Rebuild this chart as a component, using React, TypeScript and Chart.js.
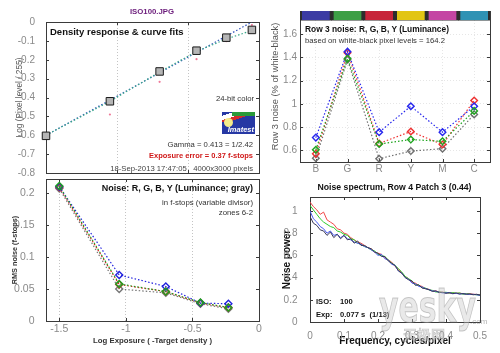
import React, { useEffect, useRef } from 'react';
import { Chart, registerables } from 'chart.js';
Chart.register(...registerables);

// ---------- Data ----------
// Density response (top-left)
const densityX = [-1.5, -1.05, -0.7, -0.44, -0.23, -0.05];
const densityY = [-0.603, -0.42, -0.262, -0.152, -0.083, -0.042];
const densityPinkY = [-0.6, -0.49, -0.317, -0.197, -0.102, -0.016];
const curveFitY = [-0.6, -0.42, -0.265, -0.156, -0.09, -0.045];
const gammaFitX = [-1.5, -0.05];
const gammaFitY = [-0.6, 0];
const densityXTicks = [-1.5, -1, -0.5, 0];
const densityYTicks = [0, -0.1, -0.2, -0.3, -0.4, -0.5, -0.6, -0.7, -0.8];

// RMS noise in f-stops (bottom-left)
const exposureX = [-1.5, -1.05, -0.7, -0.44, -0.23];
const rmsRed = [0.209, 0.057, 0.046, 0.028, 0.021];
const rmsGreen = [0.211, 0.058, 0.046, 0.029, 0.021];
const rmsBlue = [0.21, 0.072, 0.054, 0.028, 0.027];
const rmsGray = [0.207, 0.05, 0.044, 0.027, 0.019];
const exposureTicks = [-1.5, -1, -0.5, 0];
const rmsTicks = [0, 0.05, 0.1, 0.15, 0.2];

// Row 3 noise (top-right)
const patchLabels = ['B', 'G', 'R', 'Y', 'M', 'C'];
const patchColors = ['#3b3ba3', '#3d9f45', '#c7253a', '#e2c514', '#c445a3', '#2f92b4'];
const row3Red = [0.57, 1.44, 0.66, 0.763, 0.65, 1.03];
const row3Green = [0.606, 1.39, 0.655, 0.693, 0.678, 0.94];
const row3Blue = [0.71, 1.45, 0.757, 0.98, 0.757, 0.98];
const row3Gray = [0.533, 1.38, 0.528, 0.594, 0.615, 0.91];
const colorStripRange = [1.722, 1.8];
const row3Ticks = [0.6, 0.8, 1, 1.2, 1.4, 1.6];

// Noise spectrum (bottom-right)
const freq = [
  0, 0.01, 0.02, 0.03, 0.04, 0.05, 0.06, 0.07, 0.08, 0.09,
  0.1, 0.11, 0.12, 0.13, 0.14, 0.15, 0.16, 0.17, 0.18, 0.19,
  0.2, 0.21, 0.22, 0.23, 0.24, 0.25, 0.26, 0.27, 0.28, 0.29,
  0.3, 0.31, 0.32, 0.33, 0.34, 0.35, 0.36, 0.37, 0.38, 0.39,
  0.4, 0.41, 0.42, 0.43, 0.44, 0.45, 0.46, 0.47, 0.48, 0.49, 0.5,
];
const specRed = [
  1.08, 1.04, 1.01, 0.97, 0.99, 0.92, 0.9, 0.88, 0.84, 0.83,
  0.8, 0.79, 0.76, 0.74, 0.72, 0.71, 0.69, 0.67, 0.66, 0.63,
  0.62, 0.61, 0.58, 0.56, 0.54, 0.5, 0.48, 0.44, 0.41, 0.39,
  0.36, 0.35, 0.33, 0.32, 0.3, 0.295, 0.28, 0.28, 0.27, 0.268,
  0.265, 0.26, 0.262, 0.258, 0.26, 0.255, 0.252, 0.255, 0.25, 0.248, 0.245,
];
const specGreen = [
  1.05, 1.01, 0.97, 0.93, 0.9, 0.88, 0.86, 0.85, 0.82, 0.81,
  0.79, 0.78, 0.75, 0.74, 0.71, 0.7, 0.68, 0.67, 0.65, 0.64,
  0.61, 0.6, 0.59, 0.56, 0.53, 0.51, 0.48, 0.45, 0.41, 0.39,
  0.37, 0.34, 0.33, 0.31, 0.305, 0.29, 0.285, 0.27, 0.272, 0.265,
  0.268, 0.26, 0.265, 0.258, 0.262, 0.25, 0.255, 0.25, 0.248, 0.245, 0.243,
];
const specBlue = [
  1.0, 0.93, 0.9, 0.86, 0.84, 0.8, 0.82, 0.78, 0.79, 0.76,
  0.78, 0.75, 0.74, 0.72, 0.71, 0.7, 0.68, 0.67, 0.65, 0.63,
  0.6, 0.61, 0.57, 0.56, 0.52, 0.51, 0.46, 0.44, 0.4, 0.385,
  0.35, 0.345, 0.32, 0.315, 0.3, 0.292, 0.28, 0.277, 0.268, 0.262,
  0.262, 0.265, 0.255, 0.258, 0.252, 0.256, 0.25, 0.248, 0.25, 0.245, 0.24,
];
const specDark = [
  0.95, 0.89, 0.87, 0.83, 0.82, 0.78, 0.81, 0.76, 0.79, 0.75,
  0.78, 0.74, 0.75, 0.71, 0.73, 0.69, 0.69, 0.67, 0.66, 0.63,
  0.62, 0.59, 0.59, 0.55, 0.53, 0.51, 0.46, 0.44, 0.4, 0.38,
  0.37, 0.33, 0.335, 0.305, 0.3, 0.29, 0.275, 0.28, 0.265, 0.268,
  0.258, 0.265, 0.255, 0.262, 0.252, 0.256, 0.25, 0.253, 0.245, 0.25, 0.242,
];
const freqTicks = [0, 0.1, 0.2, 0.3, 0.4, 0.5];
const powerTicks = [0, 0.2, 0.4, 0.6, 0.8, 1];

// ---------- Styling helpers ----------
const FONT = "'Liberation Sans', Arial, Helvetica, sans-serif";
const TICK_COLOR = '#8a8a8a';
Chart.defaults.font.family = FONT;

const fmt = (v: any) => {
  const n = Math.round(Number(v) * 1000) / 1000;
  return Object.is(n, -0) ? '0' : String(n);
};
const setTicks = (vals: number[]) => (s: any) => {
  s.ticks = vals.map((value) => ({ value }));
};
const xy = (xs: number[], ys: number[]) => xs.map((x, i) => ({ x, y: ys[i] }));

const framePlugin = {
  id: 'frame',
  beforeDatasetsDraw(chart: any, _a: any, opts: any) {
    const { ctx, chartArea } = chart;
    const { left, top, right, bottom } = chartArea;
    const xs = chart.scales.x;
    const ys = chart.scales.y;
    const L = 3;
    ctx.save();
    ctx.strokeStyle = opts.color || '#3a3a3a';
    ctx.lineWidth = 1;
    ctx.setLineDash([]);
    ctx.beginPath();
    xs.ticks.forEach((_t: any, i: number) => {
      const p = Math.round(xs.getPixelForTick(i)) + 0.5;
      ctx.moveTo(p, bottom);
      ctx.lineTo(p, bottom - L);
      ctx.moveTo(p, top);
      ctx.lineTo(p, top + L);
    });
    ys.ticks.forEach((_t: any, i: number) => {
      const p = Math.round(ys.getPixelForTick(i)) + 0.5;
      ctx.moveTo(left, p);
      ctx.lineTo(left + L, p);
      ctx.moveTo(right, p);
      ctx.lineTo(right - L, p);
    });
    ctx.stroke();
    ctx.strokeRect(Math.round(left) + 0.5, Math.round(top) + 0.5, Math.round(right - left), Math.round(bottom - top));
    ctx.restore();
  },
};

const baseOptions = (pad: { top: number; right: number }) => ({
  animation: false,
  responsive: false,
  maintainAspectRatio: false,
  events: [],
  layout: { padding: { top: pad.top, right: pad.right, left: 0, bottom: 0 } },
  plugins: { legend: { display: false }, tooltip: { enabled: false }, frame: {} },
});

const marker = (color: string, data: any, r = 3.3) => ({
  data,
  borderColor: color,
  borderWidth: 1.2,
  borderDash: [1.5, 2],
  pointStyle: 'rectRot',
  pointRadius: r,
  pointBorderWidth: 1.4,
  pointBorderColor: color,
  pointBackgroundColor: 'rgba(255,255,255,0)',
  tension: 0,
});

// ---------- Chart configs ----------
const densityConfig = () => ({
  type: 'line',
  data: {
    datasets: [
      {
        data: xy(densityX, densityY),
        showLine: false,
        pointStyle: 'rect',
        pointRadius: 5.3,
        pointBackgroundColor: '#b5b5b5',
        pointBorderColor: '#1a1a1a',
        pointBorderWidth: 1,
        clip: false,
      },
      {
        data: xy(densityX, densityPinkY),
        showLine: false,
        pointStyle: 'circle',
        pointRadius: 1.1,
        pointBorderWidth: 0,
        pointBackgroundColor: '#f07898',
      },
      {
        data: xy(densityX, curveFitY),
        borderColor: '#3aa88a',
        borderWidth: 1.2,
        borderDash: [1.5, 2],
        pointRadius: 0,
      },
      {
        data: xy(gammaFitX, gammaFitY),
        borderColor: '#3355bb',
        borderWidth: 1.2,
        borderDash: [1.5, 2],
        pointRadius: 0,
      },
    ],
  },
  options: {
    ...baseOptions({ top: 22, right: 8 }),
    scales: {
      x: {
        type: 'linear',
        min: -1.5,
        max: 0,
        afterBuildTicks: setTicks(densityXTicks),
        afterFit: (s: any) => { s.height = 6; },
        ticks: { display: false },
        grid: { color: '#c4c4c4', drawTicks: false },
        border: { display: false, dash: [1, 2] },
      },
      y: {
        type: 'linear',
        min: -0.8,
        max: 0,
        afterBuildTicks: setTicks(densityYTicks),
        afterFit: (s: any) => { s.width = 46; },
        ticks: { color: TICK_COLOR, font: { size: 10 }, padding: 3, callback: fmt },
        grid: { display: false },
        border: { display: false },
        title: { display: true, text: 'Log (Pixel level / 255)', color: '#555', font: { size: 8.3 }, padding: { top: 14.5, bottom: 0 } },
      },
    },
  },
  plugins: [framePlugin],
});

const rmsConfig = () => ({
  type: 'line',
  data: {
    datasets: [
      marker('#1f9f1f', xy(exposureX, rmsGreen), 3.5),
      marker('#2222dd', xy(exposureX, rmsBlue), 3.5),
      marker('#e02222', xy(exposureX, rmsRed), 3.5),
      marker('#777777', xy(exposureX, rmsGray), 3.5),
    ],
  },
  options: {
    ...baseOptions({ top: 12, right: 8 }),
    scales: {
      x: {
        type: 'linear',
        min: -1.6,
        max: 0,
        afterBuildTicks: setTicks(exposureTicks),
        afterFit: (s: any) => { s.height = 32; },
        ticks: { color: TICK_COLOR, font: { size: 10.5 }, padding: 2, callback: fmt, maxRotation: 0, autoSkip: false },
        grid: { color: '#c4c4c4', drawTicks: false },
        border: { display: false, dash: [1, 2] },
        title: { display: true, text: 'Log Exposure ( -Target density )', color: '#333', font: { size: 7.8, weight: 'bold' }, padding: { top: 0, bottom: 7.6 } },
      },
      y: {
        type: 'linear',
        min: 0,
        max: 0.222,
        afterBuildTicks: setTicks(rmsTicks),
        afterFit: (s: any) => { s.width = 46; },
        ticks: { color: TICK_COLOR, font: { size: 10.5 }, padding: 3.5, callback: fmt },
        grid: { display: false },
        border: { display: false },
        title: { display: true, text: 'RMS noise (f-stops)', color: '#333', font: { size: 7.3, weight: 'bold' }, padding: { top: 10.6, bottom: 0 } },
      },
    },
  },
  plugins: [framePlugin],
});

const row3Config = () => ({
  type: 'line',
  data: {
    labels: patchLabels,
    datasets: [
      marker('#1fa51f', row3Green),
      marker('#2626ee', row3Blue),
      marker('#ee3030', row3Red),
      marker('#707070', row3Gray),
      {
        type: 'bar',
        data: patchLabels.map(() => colorStripRange),
        backgroundColor: patchColors,
        borderWidth: 0,
        barPercentage: 0.875,
        categoryPercentage: 1,
        grouped: false,
      },
      {
        type: 'bar',
        data: patchLabels.map(() => colorStripRange),
        backgroundColor: '#2d2d2d',
        borderWidth: 0,
        barPercentage: 1,
        categoryPercentage: 1,
        grouped: false,
      },
    ],
  },
  options: {
    ...baseOptions({ top: 11, right: 8 }),
    scales: {
      x: {
        type: 'category',
        offset: true,
        afterFit: (s: any) => { s.height = 16; },
        ticks: { color: TICK_COLOR, font: { size: 10 }, padding: 1 },
        grid: { color: '#e6e6e6', drawTicks: false, offset: false },
        border: { display: false, dash: [1, 2] },
      },
      y: {
        type: 'linear',
        min: 0.5,
        max: 1.8,
        afterBuildTicks: setTicks(row3Ticks),
        afterFit: (s: any) => { s.width = 38; },
        ticks: { color: TICK_COLOR, font: { size: 10 }, padding: 3, callback: fmt },
        grid: { color: '#e6e6e6', drawTicks: false },
        border: { display: false, dash: [1, 2] },
        title: { display: true, text: 'Row 3 noise (% of white-black)', color: '#555', font: { size: 9.3 }, padding: { top: 7.4, bottom: 0 } },
      },
    },
  },
  plugins: [framePlugin],
});

const spectrumConfig = () => {
  const line = (color: string, ys: number[]) => ({
    data: xy(freq, ys),
    borderColor: color,
    borderWidth: 1,
    pointRadius: 0,
    tension: 0,
  });
  return {
    type: 'line',
    data: {
      datasets: [
        line('#383858', specDark),
        line('#4a5cf0', specBlue),
        line('#2ccc2c', specGreen),
        line('#f04848', specRed),
      ],
    },
    options: {
      ...baseOptions({ top: 12, right: 8 }),
      scales: {
        x: {
          type: 'linear',
          min: 0,
          max: 0.5,
          afterBuildTicks: setTicks(freqTicks),
          afterFit: (s: any) => { s.height = 31; },
          ticks: { color: TICK_COLOR, font: { size: 10 }, padding: 0, callback: fmt, maxRotation: 0, autoSkip: false },
          grid: { display: false },
          border: { display: false },
          title: { display: true, text: 'Frequency, cycles/pixel', color: '#111', font: { size: 10, weight: 'bold' }, padding: { top: 0, bottom: 6 } },
        },
        y: {
          type: 'linear',
          min: 0,
          max: 1.126,
          afterBuildTicks: setTicks(powerTicks),
          afterFit: (s: any) => { s.width = 48; },
          ticks: { color: TICK_COLOR, font: { size: 10 }, padding: 4.5, callback: fmt },
          grid: { display: false },
          border: { display: false },
          title: { display: true, text: 'Noise power', color: '#111', font: { size: 10, weight: 'bold' }, padding: { top: 19, bottom: 0 } },
        },
      },
    },
    plugins: [framePlugin],
  };
};

// ---------- Components ----------
function ChartBox({ rect, make }: { rect: [number, number, number, number]; make: () => any }) {
  const ref = useRef<HTMLCanvasElement>(null);
  useEffect(() => {
    const c = new Chart(ref.current as HTMLCanvasElement, make());
    return () => c.destroy();
  }, []);
  const [l, t, w, h] = rect;
  return <canvas ref={ref} width={w} height={h} style={{ position: 'absolute', left: l, top: t, width: w, height: h }} />;
}

type LP = { x: number; y: number; text: string; size: number; bold?: boolean; color?: string; align?: 'left' | 'right' | 'center'; italic?: boolean };
function Label({ x, y, text, size, bold, color = '#222', align = 'left', italic }: LP) {
  const tx = align === 'left' ? '0' : align === 'right' ? '-100%' : '-50%';
  return (
    <div
      style={{
        position: 'absolute',
        left: x,
        top: y,
        transform: `translate(${tx}, -50%)`,
        fontSize: size,
        fontWeight: bold ? 700 : 400,
        fontStyle: italic ? 'italic' : 'normal',
        color,
        fontFamily: FONT,
        whiteSpace: 'pre',
        lineHeight: 1,
      }}
    >
      {text}
    </div>
  );
}

function Logo() {
  return (
    <div style={{ position: 'absolute', left: 222, top: 112, width: 33, height: 22, background: '#2638a4', overflow: 'hidden' }}>
      <div style={{ position: 'absolute', left: 0, top: 0, width: 33, height: 10, background: 'linear-gradient(162deg, #2638a4 0%, #2638a4 18%, #ffffff 18%, #ffffff 40%, #d42a2a 40%, #d42a2a 58%, #2638a4 58%)' }} />
      <div style={{ position: 'absolute', left: 10, top: 0, width: 23, height: 4, background: '#2a9a3a' }} />
      <div style={{ position: 'absolute', left: 2, top: 6, width: 9, height: 9, borderRadius: '50%', background: '#f4ec8a' }} />
      <div style={{ position: 'absolute', right: 1, bottom: 1, color: '#fff', fontFamily: FONT, fontStyle: 'italic', fontWeight: 700, fontSize: 7.5, lineHeight: 1 }}>Imatest</div>
    </div>
  );
}

export default function App() {
  return (
    <div style={{ position: 'absolute', left: 0, top: 0, width: 500, height: 353, background: '#fff', overflow: 'hidden' }}>
      <ChartBox rect={[0, 0, 267, 182]} make={densityConfig} />
      <ChartBox rect={[0, 167, 267, 186]} make={rmsConfig} />
      <ChartBox rect={[262, 0, 236, 178]} make={row3Config} />
      <ChartBox rect={[262, 185, 226, 168]} make={spectrumConfig} />

      {/* top-left annotations */}
      <Label x={152} y={12} text="ISO100.JPG" size={7.8} bold color="#6a1a7a" align="center" />
      <Label x={50} y={32} text="Density response & curve fits" size={9.5} bold color="#111" />
      <Label x={254} y={99} text="24-bit color" size={7.7} color="#333" align="right" />
      <Logo />
      <Label x={253} y={145} text="Gamma = 0.413 = 1/2.42" size={7.7} color="#333" align="right" />
      <Label x={253} y={156} text="Exposure error = 0.37 f-stops" size={7.5} bold color="#d01818" align="right" />
      <Label x={253} y={168.5} text="18-Sep-2013 17:47:05   4000x3000 pixels" size={7.7} color="#444" align="right" />

      {/* bottom-left annotations */}
      <Label x={253} y={188} text="Noise: R, G, B, Y (Luminance; gray)" size={9} bold color="#111" align="right" />
      <Label x={253} y={203} text="in f-stops (variable divisor)" size={7.8} color="#333" align="right" />
      <Label x={253} y={213} text="zones 6-2" size={7.8} color="#333" align="right" />

      {/* top-right annotations */}
      <Label x={305} y={29} text="Row 3 noise: R, G, B, Y (Luminance)" size={8.4} bold color="#111" />
      <Label x={305} y={41} text="based on white-black pixel levels = 164.2" size={7.7} color="#333" />

      {/* bottom-right annotations */}
      <Label x={394.5} y={187} text="Noise spectrum, Row 4 Patch 3 (0.44)" size={8.7} bold color="#111" align="center" />
      <Label x={316} y={302} text="ISO:" size={7.6} bold color="#111" />
      <Label x={340} y={302} text="100" size={7.6} bold color="#111" />
      <Label x={316} y={315} text="Exp:" size={7.6} bold color="#111" />
      <Label x={340} y={315} text="0.077 s  (1/13)" size={7.6} bold color="#111" />

      {/* watermark */}
      <div style={{ position: 'absolute', left: 379, top: 285, transform: 'scaleX(0.68)', transformOrigin: 'left top', fontFamily: "'DejaVu Sans', sans-serif", fontWeight: 700, fontSize: 44, lineHeight: 1, color: 'rgba(200,200,200,0.4)', WebkitTextStroke: '1px rgba(140,140,140,0.45)', whiteSpace: 'pre' }}>yesky</div>
      <div style={{ position: 'absolute', left: 403, top: 327, fontFamily: "'Noto Sans CJK SC', sans-serif", fontWeight: 700, fontSize: 14, lineHeight: 1, color: 'rgba(200,200,200,0.45)', WebkitTextStroke: '0.6px rgba(140,140,140,0.45)' }}>天极网</div>
      <div style={{ position: 'absolute', left: 470, top: 318, fontFamily: FONT, fontSize: 8, lineHeight: 1, color: 'rgba(130,130,130,0.6)' }}>.com</div>
    </div>
  );
}
